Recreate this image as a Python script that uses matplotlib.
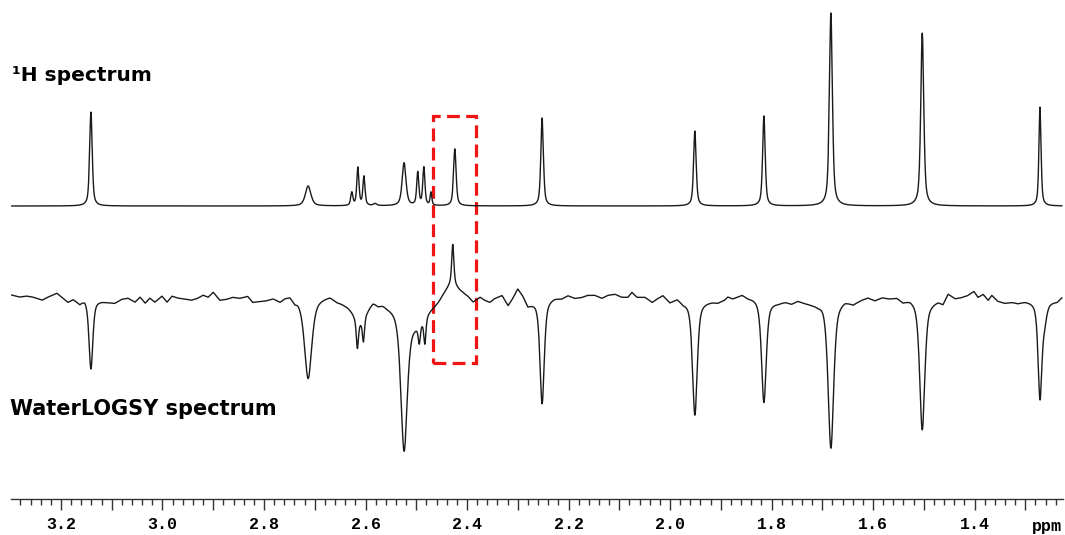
import numpy as np
import matplotlib
matplotlib.use("Agg")
import matplotlib.pyplot as plt
import matplotlib.patches as patches
from matplotlib.ticker import MultipleLocator, FuncFormatter

# 1H spectrum peak list: position (ppm), height, line width (ppm)
h1_ppm = [3.141, 2.713, 2.627, 2.615, 2.603, 2.581, 2.524, 2.497, 2.485, 2.471,
          2.424, 2.252, 1.951, 1.815, 1.683, 1.503, 1.271]
h1_height = [94, 20, 13, 38, 29, 2, 43, 33, 38, 13, 57, 88, 75, 90, 193, 173, 99]
h1_width = [0.006, 0.013, 0.005, 0.005, 0.005, 0.008, 0.009, 0.005, 0.005, 0.004,
            0.006, 0.006, 0.006, 0.006, 0.007, 0.007, 0.005]

# WaterLOGSY peak list (negative = non binder, positive = binder at 2.43)
wl_ppm = [3.141, 2.713, 2.612, 2.616, 2.604, 2.524, 2.500, 2.494, 2.483, 2.428,
          2.430, 2.252, 1.951, 1.815, 1.683, 1.503, 1.271, 1.262]
wl_height = [-70, -80, -18, -28, -24, -138, -20, -18, -26, 40,
             14, -104, -114, -103, -148, -130, -96, -16]
wl_width = [0.009, 0.017, 0.03, 0.005, 0.005, 0.015, 0.05, 0.005, 0.005, 0.005,
            0.03, 0.010, 0.011, 0.011, 0.013, 0.012, 0.009, 0.010]

# WaterLOGSY baseline noise
wl_noise_ppm = [3.297, 3.281, 3.267, 3.255, 3.237, 3.226, 3.208, 3.196, 3.186, 3.176,
                3.163, 3.153, 3.129, 3.117, 3.107, 3.094, 3.080, 3.068, 3.054, 3.044,
                3.034, 3.025, 3.015, 3.001, 2.991, 2.981, 2.969, 2.956, 2.942, 2.930,
                2.920, 2.910, 2.900, 2.887, 2.873, 2.861, 2.847, 2.832, 2.822, 2.808,
                2.794, 2.782, 2.768, 2.759, 2.749, 2.739, 2.733, 2.703, 2.690, 2.670,
                2.656, 2.640, 2.631, 2.595, 2.585, 2.575, 2.566, 2.556, 2.546, 2.467,
                2.457, 2.447, 2.408, 2.398, 2.388, 2.374, 2.365, 2.355, 2.345, 2.331,
                2.319, 2.309, 2.300, 2.290, 2.280, 2.266, 2.227, 2.213, 2.201, 2.187,
                2.173, 2.162, 2.148, 2.134, 2.122, 2.108, 2.095, 2.083, 2.075, 2.065,
                2.049, 2.035, 2.024, 2.014, 2.000, 1.986, 1.974, 1.965, 1.931, 1.917,
                1.905, 1.892, 1.886, 1.876, 1.858, 1.846, 1.833, 1.799, 1.787, 1.773,
                1.760, 1.748, 1.734, 1.720, 1.708, 1.699, 1.665, 1.655, 1.639, 1.622,
                1.610, 1.596, 1.582, 1.567, 1.553, 1.541, 1.527, 1.513, 1.484, 1.472,
                1.462, 1.452, 1.438, 1.425, 1.413, 1.401, 1.393, 1.383, 1.373, 1.366,
                1.354, 1.340, 1.326, 1.314, 1.301, 1.287, 1.247, 1.237, 1.228]
wl_noise = [3, 1, 2, 1, -2, 1, 5, 0, -4, -1,
            -5, 0, -2, -3, -4, -5, -1, 0, -4, 1,
            -5, 0, -4, 2, -4, 2, 0, -1, -2, 0,
            3, 1, 6, -2, -1, 1, 0, 2, -4, -3,
            -2, 0, -3, 1, 3, -2, 0, 0, 1, 3,
            -2, -4, -4, -3, 0, -4, -3, -5, -5, -3,
            -2, 1, 3, 1, -4, 1, -2, -4, 0, 3,
            -7, 1, 10, 3, -7, -3, 1, 0, 3, 0,
            1, 3, 3, 0, 3, 4, 1, 1, 6, 1,
            1, -4, 0, 3, -4, 0, -4, -3, -3, -3,
            -4, -1, 2, 0, 4, 1, 1, -3, -4, -3,
            -5, -2, -4, -5, -5, -2, -2, -1, -5, -1,
            1, -2, 1, 0, 1, -3, 0, -1, -3, -2,
            -5, 5, 0, 1, 3, 7, 1, 4, -2, 3,
            -3, -5, -4, -5, -3, -3, -3, -3, 1]

h1_offset = 293
wl_offset = 201


def lineshape(x, pos, height, width, eta):
    # pseudo-Voigt
    hw = width / 2
    lor = hw**2 / ((x - pos)**2 + hw**2)
    gau = np.exp(-4 * np.log(2) * ((x - pos) / width)**2)
    return height * (eta * lor + (1 - eta) * gau)


x = np.linspace(1.228, 3.297, 6000)

h1 = np.zeros_like(x) + h1_offset
for p, h, w in zip(h1_ppm, h1_height, h1_width):
    h1 += lineshape(x, p, h, w, 0.6)

wl = np.interp(x, wl_noise_ppm[::-1], wl_noise[::-1]) + wl_offset
for p, h, w in zip(wl_ppm, wl_height, wl_width):
    wl += lineshape(x, p, h, w, 0.6)

fig = plt.figure(figsize=(10.65, 5.35), dpi=100)
ax = fig.add_axes([11 / 1065, 36 / 535, 1052 / 1065, 499 / 535])

ax.plot(x, h1, color='#1a1a1a', lw=1.0)
ax.plot(x, wl, color='#1a1a1a', lw=1.0)

box = patches.Rectangle((2.467, 136), 2.382 - 2.467, 383 - 136, fill=False,
                        ec='#f01414', lw=2.3, ls=(0, (4, 2)))
ax.add_patch(box)

ax.text(3.2966, 418, '¹H spectrum', fontsize=14.5, fontweight='bold',
        family='DejaVu Sans', va='baseline', ha='left')
ax.text(3.3005, 84, 'WaterLOGSY spectrum', fontsize=15, fontweight='bold',
        family='DejaVu Sans', va='baseline', ha='left')

ax.set_xlim(3.2985, 1.2257)
ax.set_ylim(0, 499)
for s in ['top', 'left', 'right']:
    ax.spines[s].set_visible(False)
ax.spines['bottom'].set_color('#333333')
ax.spines['bottom'].set_linewidth(1.0)
ax.set_yticks([])

ax.xaxis.set_major_locator(MultipleLocator(0.1))
ax.xaxis.set_minor_locator(MultipleLocator(0.02))


def fmt(v, pos):
    if round(v * 10) % 2 == 0:
        return '%.1f' % v
    return ''


ax.xaxis.set_major_formatter(FuncFormatter(fmt))
ax.tick_params(axis='x', which='major', length=8, width=1.0, color='#333333', pad=5)
ax.tick_params(axis='x', which='minor', length=4, width=1.0, color='#333333')
for lab in ax.get_xticklabels():
    lab.set_family('Liberation Mono')
    lab.set_fontweight('bold')
    lab.set_fontsize(12)

ax.annotate('ppm', xy=(1.257, 0), xycoords=('data', 'axes fraction'),
            xytext=(0, -20), textcoords='offset points', ha='center', va='center',
            family='Liberation Mono', fontweight='bold', fontsize=12)

fig.savefig('out.png', dpi=100)
